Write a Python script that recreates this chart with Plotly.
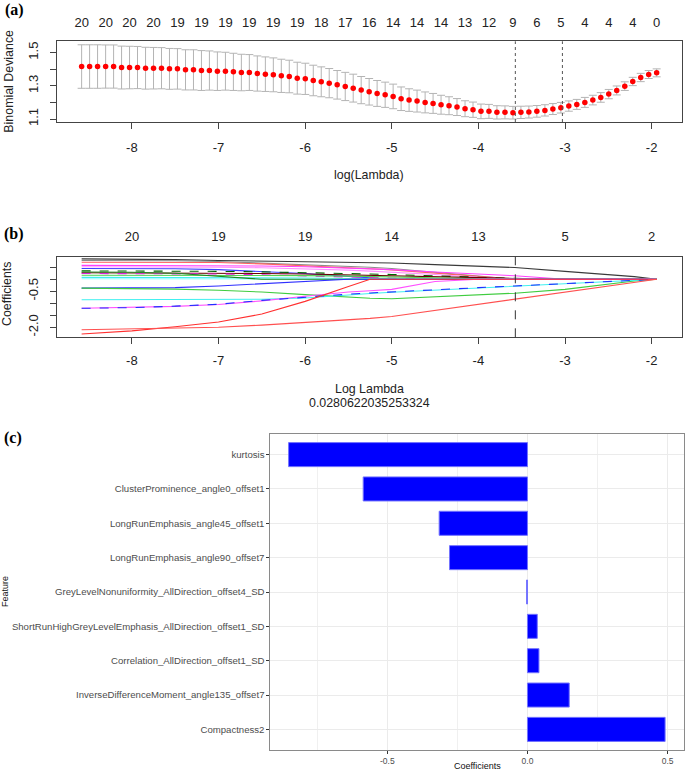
import plotly.graph_objects as go
import math

W, H = 685, 772

# ---------------- Panel (a): cross-validation curve ----------------
LOG_LAMBDA = [
    -8.580, -8.488, -8.396, -8.303, -8.211, -8.119, -8.027, -7.935, -7.842, -7.750,
    -7.658, -7.566, -7.474, -7.381, -7.289, -7.197, -7.105, -7.013, -6.920, -6.828,
    -6.736, -6.644, -6.552, -6.459, -6.367, -6.275, -6.183, -6.091, -5.998, -5.906,
    -5.814, -5.722, -5.630, -5.537, -5.445, -5.353, -5.261, -5.169, -5.076, -4.984,
    -4.892, -4.800, -4.708, -4.615, -4.523, -4.431, -4.339, -4.247, -4.154, -4.062,
    -3.970, -3.878, -3.786, -3.693, -3.601, -3.509, -3.417, -3.325, -3.232, -3.140,
    -3.048, -2.956, -2.864, -2.771, -2.679, -2.587, -2.495, -2.403, -2.310, -2.218,
    -2.126, -2.034, -1.942]
CV_MEAN = [
    1.416, 1.416, 1.416, 1.416, 1.416, 1.410, 1.410, 1.410, 1.406, 1.406,
    1.406, 1.402, 1.402, 1.396, 1.396, 1.392, 1.392, 1.388, 1.388, 1.384,
    1.380, 1.380, 1.374, 1.370, 1.366, 1.360, 1.356, 1.346, 1.342, 1.332,
    1.324, 1.316, 1.306, 1.296, 1.286, 1.274, 1.264, 1.254, 1.246, 1.236,
    1.222, 1.214, 1.208, 1.200, 1.194, 1.186, 1.180, 1.172, 1.162, 1.156,
    1.146, 1.146, 1.140, 1.140, 1.138, 1.140, 1.142, 1.146, 1.152, 1.160,
    1.168, 1.178, 1.188, 1.200, 1.214, 1.230, 1.250, 1.272, 1.298, 1.326,
    1.350, 1.368, 1.378]
CV_SD = [
    0.131, 0.131, 0.131, 0.130, 0.130, 0.129, 0.128, 0.127, 0.126, 0.125,
    0.124, 0.123, 0.122, 0.121, 0.121, 0.120, 0.118, 0.116, 0.114, 0.112,
    0.110, 0.108, 0.106, 0.104, 0.102, 0.100, 0.098, 0.096, 0.094, 0.092,
    0.090, 0.088, 0.086, 0.085, 0.084, 0.082, 0.080, 0.078, 0.076, 0.074,
    0.071, 0.068, 0.066, 0.063, 0.060, 0.057, 0.054, 0.051, 0.048, 0.046,
    0.044, 0.042, 0.040, 0.039, 0.038, 0.037, 0.036, 0.035, 0.034, 0.033,
    0.032, 0.031, 0.030, 0.030, 0.029, 0.029, 0.028, 0.027, 0.026, 0.025,
    0.025, 0.024, 0.024]
NZERO_TOP = [20, 20, 20, 20, 19, 19, 19, 19, 19, 19, 18, 17, 16, 14, 14, 14, 13, 12, 9, 6, 5, 4, 4, 4, 0]
NZERO_POS = LOG_LAMBDA[::3]
LAMBDA_MIN = 0.0280622035253324
LOG_LAMBDA_1SE = -3.03

# ---------------- Panel (b): coefficient paths ----------------
PATH_KNOTS = [-8.58, -8.0, -7.5, -7.0, -6.5, -6.0, -5.5, -5.25, -5.0, -4.5, -4.0, -3.58, -3.0, -2.5, -2.2, -1.94]
PATH_COEFS = [
    [0.85, 0.84, 0.82, 0.78, 0.75, 0.73, 0.71, 0.70, 0.68, 0.61, 0.54, 0.49, 0.33, 0.19, 0.11, 0.0],
    [0.78, 0.78, 0.77, 0.74, 0.68, 0.62, 0.55, 0.50, 0.45, 0.30, 0.13, 0.0, 0.0, 0.0, 0.0, 0.0],
    [0.71, 0.71, 0.71, 0.70, 0.64, 0.57, 0.49, 0.44, 0.39, 0.26, 0.14, 0.005, 0.0, 0.0, 0.0, 0.0],
    [0.58, 0.58, 0.58, 0.57, 0.55, 0.52, 0.46, 0.43, 0.40, 0.30, 0.21, 0.145, 0.0, 0.0, 0.0, 0.0],
    [0.52, 0.52, 0.51, 0.50, 0.48, 0.44, 0.38, 0.34, 0.30, 0.20, 0.08, 0.0, 0.0, 0.0, 0.0, 0.0],
    [0.45, 0.45, 0.44, 0.40, 0.33, 0.24, 0.12, 0.06, 0.0, 0.0, 0.0, 0.0, 0.0, 0.0, 0.0, 0.0],
    [0.35, 0.35, 0.34, 0.33, 0.31, 0.28, 0.24, 0.22, 0.20, 0.14, 0.08, 0.04, 0.0, 0.0, 0.0, 0.0],
    [0.27, 0.27, 0.27, 0.26, 0.24, 0.22, 0.19, 0.175, 0.16, 0.12, 0.07, 0.03, 0.0, 0.0, 0.0, 0.0],
    [0.24, 0.24, 0.23, 0.22, 0.19, 0.15, 0.10, 0.075, 0.05, 0.0, 0.0, 0.0, 0.0, 0.0, 0.0, 0.0],
    [0.17, 0.17, 0.17, 0.16, 0.16, 0.15, 0.13, 0.115, 0.10, 0.07, 0.03, 0.0, 0.0, 0.0, 0.0, 0.0],
    [0.08, 0.08, 0.08, 0.07, 0.06, 0.05, 0.03, 0.015, 0.0, 0.0, 0.0, 0.0, 0.0, 0.0, 0.0, 0.0],
    [0.02, 0.02, 0.01, 0.0, 0.0, 0.0, 0.0, 0.0, 0.0, 0.0, 0.0, 0.0, 0.0, 0.0, 0.0, 0.0],
    [0.30, 0.29, 0.25, 0.12, 0.0, 0.0, 0.0, 0.0, 0.0, 0.0, 0.0, 0.0, 0.0, 0.0, 0.0, 0.0],
    [-0.37, -0.37, -0.35, -0.28, -0.19, -0.09, 0.0, 0.0, 0.0, 0.0, 0.0, 0.0, 0.0, 0.0, 0.0, 0.0],
    [-0.37, -0.38, -0.41, -0.46, -0.53, -0.64, -0.75, -0.79, -0.81, -0.73, -0.63, -0.58, -0.42, -0.22, -0.07, 0.0],
    [-0.85, -0.85, -0.85, -0.84, -0.83, -0.78, -0.64, -0.59, -0.54, -0.45, -0.37, -0.31, -0.20, -0.10, -0.04, 0.0],
    [-1.21, -1.18, -1.13, -1.05, -0.90, -0.71, -0.53, -0.48, -0.42, -0.09, 0.0, 0.0, 0.0, 0.0, 0.0, 0.0],
    [-1.21, -1.18, -1.12, -1.04, -0.88, -0.74, -0.62, -0.57, -0.52, -0.43, -0.35, -0.28, -0.18, -0.09, -0.03, 0.0],
    [-2.28, -2.15, -1.98, -1.78, -1.45, -0.92, -0.30, 0.0, 0.0, 0.0, 0.0, 0.0, 0.0, 0.0, 0.0, 0.0],
    [-2.10, -2.07, -2.04, -2.00, -1.91, -1.80, -1.70, -1.63, -1.55, -1.30, -1.06, -0.85, -0.55, -0.30, -0.15, 0.0],
]
PATH_COLORS = ["#3a3a3a", "#8c8c8c", "#ff6060", "#ff40ff", "#ff90ff", "#4040ff", "#006400", "#6b0000",
               "#dd22dd", "#50d050", "#40eeee", "#90ffff", "#228822", "#3030ff", "#40cc40", "#40f0f0",
               "#ff50ff", "#2030ff", "#ff3030", "#ff5050"]
PATH_DASH = ["solid", "solid", "solid", "solid", "solid", "solid", "dash", "solid", "dash", "solid",
             "solid", "solid", "solid", "solid", "solid", "solid", "solid", "dash", "solid", "solid"]
NZERO_TOP_B = ["20", "19", "19", "14", "13", "5", "2"]
NZERO_POS_B = [-8, -7, -6, -5, -4, -3, -2]

# ---------------- Panel (c): selected features ----------------
FEATURES = ["kurtosis", "ClusterProminence_angle0_offset1", "LongRunEmphasis_angle45_offset1",
            "LongRunEmphasis_angle90_offset7", "GreyLevelNonuniformity_AllDirection_offset4_SD",
            "ShortRunHighGreyLevelEmphasis_AllDirection_offset1_SD", "Correlation_AllDirection_offset1_SD",
            "InverseDifferenceMoment_angle135_offset7", "Compactness2"]
FEATURE_COEFS = [-0.852, -0.586, -0.315, -0.278, -0.003, 0.035, 0.041, 0.149, 0.491]


def xdom(left, right):
    return [left / W, right / W]


def ydom(top, bottom):
    return [1 - bottom / H, 1 - top / H]


def px(xp):
    return xp / W


def py(yp):
    return 1 - yp / H


FONT = "Liberation Sans, Arial, sans-serif"
SERIF = "Liberation Serif, Times New Roman, serif"
fig = go.Figure()

# (a)
fig.add_trace(go.Scatter(
    x=LOG_LAMBDA, y=CV_MEAN, mode="markers", xaxis="x", yaxis="y",
    marker=dict(color="#ff0000", size=5.5),
    error_y=dict(type="data", array=CV_SD, symmetric=True, color="#b4b4b4", thickness=1, width=4),
    showlegend=False, hoverinfo="skip"))
fig.add_trace(go.Scatter(x=NZERO_POS, y=[CV_MEAN[0]] * len(NZERO_POS), mode="markers", xaxis="x2", yaxis="y",
                         marker=dict(opacity=0), showlegend=False, hoverinfo="skip"))

# (b)
for coefs, col, dash in zip(PATH_COEFS, PATH_COLORS, PATH_DASH):
    fig.add_trace(go.Scatter(x=PATH_KNOTS, y=coefs, mode="lines", xaxis="x3", yaxis="y3",
                             line=dict(color=col, width=1.1, dash=dash), showlegend=False, hoverinfo="skip"))
fig.add_trace(go.Scatter(x=NZERO_POS_B, y=[0] * len(NZERO_POS_B), mode="markers", xaxis="x4", yaxis="y3",
                         marker=dict(opacity=0), showlegend=False, hoverinfo="skip"))

# (c)
fig.add_trace(go.Bar(
    x=FEATURE_COEFS, y=FEATURES, orientation="h", xaxis="x5", yaxis="y5", width=0.7,
    marker=dict(color="#0000ff", line=dict(color="#7373ff", width=1)),
    showlegend=False, hoverinfo="skip"))

XR = [-8.869, -1.646]
AB_L, AB_R = 56.6, 682.3
A_T, A_B = 41.3, 122.0
B_T, B_B = 256.7, 337.3
C_L, C_R, C_T, C_B = 270.4, 683.6, 434.0, 750.0

box = dict(showline=True, linecolor="#444444", linewidth=1, mirror=True, zeroline=False, showgrid=False,
           automargin=False)
tickf = dict(family=FONT, size=13, color="#222222")
titf = dict(family=FONT, size=12.4, color="#222222")
LOG_TICKS = [-8, -7, -6, -5, -4, -3, -2]

fig.update_layout(
    width=W, height=H, margin=dict(l=0, r=0, t=0, b=0, pad=0), autosize=False,
    paper_bgcolor="white", plot_bgcolor="white",
    xaxis=dict(domain=xdom(AB_L, AB_R), anchor="y", range=XR, tickvals=LOG_TICKS,
               ticktext=[str(v) for v in LOG_TICKS],
               ticks="outside", ticklen=6, tickcolor="#444444", tickfont=tickf, ticklabelstandoff=7, **box),
    xaxis2=dict(overlaying="x", side="top", anchor="y", range=XR, tickvals=NZERO_POS,
                ticktext=[str(v) for v in NZERO_TOP], ticks="", tickfont=tickf, ticklabelstandoff=11,
                showline=False, showgrid=False, zeroline=False, automargin=False),
    yaxis=dict(domain=ydom(A_T, A_B), anchor="x", range=[1.082, 1.568],
               tickvals=[1.1, 1.2, 1.3, 1.4, 1.5], ticktext=["1.1", "", "1.3", "", "1.5"],
               tickangle=-90, ticks="outside", ticklen=6, tickcolor="#444444", tickfont=tickf,
               ticklabelstandoff=6, **box),
    xaxis3=dict(domain=xdom(AB_L, AB_R), anchor="y3", range=XR, tickvals=LOG_TICKS,
                ticktext=[str(v) for v in LOG_TICKS],
                ticks="outside", ticklen=6, tickcolor="#444444", tickfont=tickf, ticklabelstandoff=5, **box),
    xaxis4=dict(overlaying="x3", side="top", anchor="y3", range=XR, tickvals=NZERO_POS_B,
                ticktext=NZERO_TOP_B, ticks="", tickfont=tickf, ticklabelstandoff=12,
                showline=False, showgrid=False, zeroline=False, automargin=False),
    yaxis3=dict(domain=ydom(B_T, B_B), anchor="x3", range=[-2.417, 0.94],
                tickvals=[0.5, 0.0, -0.5, -1.0, -1.5, -2.0], ticktext=["", "", "-0.5", "", "", "-2.0"],
                tickangle=-90, ticks="outside", ticklen=6, tickcolor="#444444", tickfont=tickf,
                ticklabelstandoff=6, **box),
    xaxis5=dict(domain=xdom(C_L, C_R), anchor="y5", range=[-0.917, 0.557],
                tickvals=[-0.5, 0.0, 0.5], ticktext=["-0.5", "0.0", "0.5"],
                ticks="outside", ticklen=3, tickcolor="#333333",
                tickfont=dict(family=FONT, size=8.5, color="#4d4d4d"),
                showgrid=True, gridcolor="#ebebeb", gridwidth=1, zeroline=False,
                minor=dict(tickvals=[-0.75, -0.25, 0.25], showgrid=True, gridcolor="#f0f0f0", gridwidth=0.6),
                showline=True, linecolor="#8a8a8a", linewidth=1, mirror=True, automargin=False),
    yaxis5=dict(domain=ydom(C_T, C_B), anchor="x5", type="category",
                categoryorder="array", categoryarray=FEATURES[::-1], range=[-0.6, 8.6],
                ticks="outside", ticklen=3, tickcolor="#333333",
                tickfont=dict(family=FONT, size=9.6, color="#4d4d4d"),
                showgrid=True, gridcolor="#ebebeb", gridwidth=1, zeroline=False,
                showline=True, linecolor="#8a8a8a", linewidth=1, mirror=True, automargin=False),
    shapes=[
        dict(type="line", xref="x", yref="y domain", x0=math.log(LAMBDA_MIN), x1=math.log(LAMBDA_MIN),
             y0=0, y1=1, line=dict(color="#555555", width=1, dash="dot")),
        dict(type="line", xref="x", yref="y domain", x0=LOG_LAMBDA_1SE, x1=LOG_LAMBDA_1SE,
             y0=0, y1=1, line=dict(color="#555555", width=1, dash="dot")),
        dict(type="line", xref="x3", yref="y3 domain", x0=math.log(LAMBDA_MIN), x1=math.log(LAMBDA_MIN),
             y0=0, y1=1, line=dict(color="#333333", width=1, dash="dash")),
    ],
)

ann = [
    ("<b>(a)</b>", 14, 10, 0, dict(family=SERIF, size=16, color="#000")),
    ("<b>(b)</b>", 14, 234, 0, dict(family=SERIF, size=16, color="#000")),
    ("<b>(c)</b>", 13, 438, 0, dict(family=SERIF, size=16, color="#000")),
    ("Binomial Deviance", 9, (A_T + A_B) / 2, -90, titf),
    ("log(Lambda)", (AB_L + AB_R) / 2, 175, 0, titf),
    ("Coefficients", 7, 294, -90, titf),
    ("Log Lambda", (AB_L + AB_R) / 2, 389, 0, titf),
    (repr(LAMBDA_MIN), (AB_L + AB_R) / 2, 403, 0, titf),
    ("Feature", 5, (C_T + C_B) / 2, -90, dict(family=FONT, size=9, color="#111111")),
    ("Coefficients", (C_L + C_R) / 2, 766, 0, dict(family=FONT, size=9, color="#111111")),
]
fig.update_layout(annotations=[
    dict(text=t, x=px(x), y=py(y), xref="paper", yref="paper", showarrow=False, textangle=a,
         xanchor="center", yanchor="middle", font=f)
    for t, x, y, a, f in ann])

fig.write_html("out.html", config={"displayModeBar": False},
               post_script="document.body.style.margin='0px';document.body.style.padding='0px';")
